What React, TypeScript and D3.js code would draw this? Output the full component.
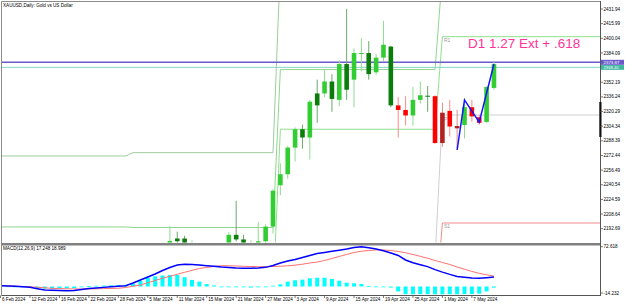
import React from 'react';
import * as d3 from 'd3';

const W = 625;
const H = 305;

// ---- price data (daily bars, 6 Feb 2024 .. 10 May 2024) ----
const opens = [2024, 2035, 2035, 2034, 2025, 2020, 1993, 1992, 2004, 2013, 2017, 2025, 2025, 2024, 2035, 2031, 2034, 2034, 2044, 2083, 2114, 2128, 2148,
  2160, 2179, 2182, 2158, 2174, 2162, 2155, 2160, 2157, 2186, 2181, 2165, 2172, 2179, 2195,
  2240, 2252, 2281, 2301, 2292, 2327, 2340, 2353, 2333, 2372, 2355, 2383, 2384, 2363, 2379, 2391,
  2327, 2322, 2316, 2333, 2337.5, 2337, 2286, 2321, 2304.5, 2305.6, 2325, 2314, 2309, 2346];
const highs = [2040, 2043, 2044, 2040, 2032, 2031, 1998, 2009, 2015, 2022, 2031, 2030, 2035, 2041, 2038, 2037, 2042, 2052, 2088, 2119, 2141, 2153, 2165,
  2195.7, 2189.5, 2185, 2180, 2176, 2167, 2165, 2163, 2189, 2223, 2186, 2180, 2200, 2197.5, 2236,
  2264, 2283, 2303, 2306, 2333, 2355, 2366, 2361, 2376, 2432, 2389, 2400, 2397, 2383, 2419, 2392,
  2336, 2337, 2347, 2353, 2348, 2338, 2330, 2333, 2322, 2335, 2333, 2316.5, 2348, 2374];
const lows = [2022, 2030, 2026, 2021, 2016, 1992, 1984, 1990, 1995, 2010, 2014, 2020, 2016, 2021, 2025, 2025, 2025, 2030, 2040, 2078, 2109, 2124, 2142,
  2153, 2170, 2150, 2156, 2152, 2150, 2152, 2146, 2146, 2179, 2157, 2163, 2169, 2176, 2187.5,
  2229, 2247, 2266, 2280, 2268, 2308, 2336, 2320, 2326, 2333, 2325, 2364, 2355, 2360, 2375, 2325,
  2292, 2305, 2305, 2329, 2320, 2285, 2282, 2293, 2280, 2291, 2309, 2306, 2308, 2344];
const closes = [2035, 2035, 2034, 2025, 2020, 1993, 1992, 2004, 2013, 2017, 2025, 2025, 2024, 2035, 2031, 2034, 2034, 2044, 2083, 2114, 2128, 2148, 2160,
  2179.4, 2182, 2158, 2174, 2162, 2155, 2160, 2157, 2186, 2181, 2165, 2172, 2179, 2195, 2234,
  2252, 2281, 2301, 2292, 2331, 2340, 2353, 2334, 2372, 2344, 2384, 2384, 2361, 2379, 2393, 2327,
  2322, 2316, 2333, 2338, 2336.5, 2286, 2319, 2304, 2302, 2325, 2315, 2308, 2347, 2371.87];
// g = lime, G = dark green, r = red, R = dark red
const barKinds = ('gGGGGGGggggGGgGgGgggggg' + 'gGGgGGgGgG' + 'GgggggggGg' + 'GgGgGggGgg' + 'GrrggGrRrR' + 'grrgg').split('');

// ---- MACD(12,26,9) ----
const macdMain = [1.5, 1.1, 0.4, -0.5, -1.5, -4.0, -6.4, -6.9, -7.3, -7.7,
  -7.3, -5.5, -3.7, -2.7, -1.6, -0.5, 0.5, 1.3, 6.4, 11.9,
  17.3, 22.8, 29.2, 34.7, 39.2, 40.5, 40.2, 39.2, 38.0, 37.0,
  35.6, 34.7, 33.9, 33.4, 33.2, 33.8, 34.9, 38.3, 42.9, 46.5,
  49.3, 52.9, 56.6, 60.2, 62.1, 64.2, 66.2, 68.4, 71.2, 72.6,
  70.5, 68.4, 65.3, 61.1, 56.6, 48.4, 43.3, 39.8, 36.3, 30.8,
  26.2, 22.1, 18.1, 16.8, 15.7, 15.1, 16.1, 17.248];
const macdSignal = [1.5, 1.1, 0.5, 0, -0.4, -1.5, -2.4, -3.3, -3.8, -4.2,
  -4.4, -4.6, -4.6, -4.2, -3.8, -3.5, -3.3, -1.8, 0.4, 2.7,
  6.8, 10.9, 15.1, 18.6, 22.4, 25.9, 29.4, 32.9, 34.7, 36.5,
  37.9, 37.9, 37.4, 36.9, 36.5, 36.1, 36.1, 36.5, 37.0, 37.8,
  38.9, 40.7, 42.9, 44.7, 47.5, 51.1, 54.8, 58.4, 62.1, 64.4,
  65.7, 66.6, 66.6, 65.7, 63.9, 61.7, 58.4, 55.1, 51.5, 47.5,
  43.8, 40.2, 35.5, 31.5, 27.5, 24.0, 21.4, 18.989];
const macdHist = [0.5, 0.3, -0.5, -0.8, -1.5, -3, -4, -4, -3.5, -3.5,
  -3, -1.5, 0.8, 1.5, 1.8, 2.2, 2.8, 3, 5, 10,
  16, 18.5, 20, 21, 21, 17, 12, 9, 4.5, 2,
  -0.5, -1, -1.5, -1.5, -2, -1.5, -1, 1.5, 4, 8.8,
  11.5, 12.5, 15, 16, 16, 13.7, 10.6, 7, 5.8, 4.6,
  1, -0.8, -0.8, -2, -9, -14, -14.2, -14, -14.1, -14.2,
  -14.2, -14, -14.2, -14, -13.8, -13, -9, -2];

// ---- axes ----
const priceTicks = [2431.94, 2415.99, 2400.04, 2384.09, 2352.19, 2336.24, 2320.29, 2304.34, 2288.39, 2272.44, 2256.49, 2240.54, 2224.59, 2208.64, 2192.69];
const dateTickIdx = [0, 4, 8, 12, 16, 20, 24, 28, 32, 36, 40, 44, 48, 52, 56, 60, 64];
const dateTickLabels = ['6 Feb 2024', '12 Feb 2024', '16 Feb 2024', '22 Feb 2024', '28 Feb 2024', '5 Mar 2024', '11 Mar 2024', '15 Mar 2024', '21 Mar 2024', '27 Mar 2024', '3 Apr 2024', '9 Apr 2024', '15 Apr 2024', '19 Apr 2024', '25 Apr 2024', '1 May 2024', '7 May 2024'];
const macdTicks = [72.618, -14.232];

// ---- monthly pivot levels (Feb, Mar, Apr, May) ----
const monthStart = [-3, 18, 38, 60];
const monthEnd = [17, 37, 59, 100];
const pivotLevelA = [2271.9, 2275.5, 2480, 2490];
const pivotLevelB = [2194.6, 2194.0, 2366.0, 2470];
const pivotLevelC = [2100, 2120, 2301.0, 2401.8];
const pivotLevelP = [2030, 2060, 2160, 2316.5];
const pivotLevelS = [1990, 2010, 2100, 2198.9];

// ---- drawn objects ----
const hLineValues = [2373.87, 2368.40];
const zigIdx = [62, 63, 65, 67];
const zigPrice = [2278.4, 2332.9, 2308.6, 2372.0];

const FONT = 'Liberation Sans, Arial, sans-serif';

const kindColor: Record<string, { body: string; wick: string }> = {
  g: { body: '#32cd32', wick: '#8fdc8f' },
  G: { body: '#0a7d0a', wick: '#6aa86a' },
  r: { body: '#ff0000', wick: '#ff8a8a' },
  R: { body: '#b22222', wick: '#d98c8c' },
};

export default function App() {
  const AXIS_X = 600.5;
  const x = d3.scaleLinear().domain([0, 67]).range([0.5, 0.5 + 67 * 7.365]);
  const y = d3.scaleLinear().domain([2192.69, 2431.94]).range([228.7, 9]);
  const ym = d3.scaleLinear().domain([-14.232, 72.618]).range([294.3, 246.7]);

  const pivotPath = (levels: number[]) => {
    const pts: [number, number][] = [];
    levels.forEach((v, m) => {
      pts.push([x(monthStart[m]), y(v)]);
      pts.push([x(monthEnd[m]), y(v)]);
    });
    return d3.line()(pts) || '';
  };

  const idx = d3.range(opens.length);
  const bw = 4.6;

  const macdLine = d3.line<number>().x((_, i) => x(i)).y((d) => ym(d));
  const zigLine = d3.line<number>().x((d) => x(d)).y((_, i) => y(zigPrice[i]));

  return (
    <div style={{ position: 'fixed', left: 0, top: 0 }}>
      <svg width={W} height={H} style={{ display: 'block', background: '#ffffff' }} fontFamily={FONT}>
        <defs>
          <clipPath id="mainClip"><rect x={2} y={2} width={AXIS_X - 2} height={240.5} /></clipPath>
          <clipPath id="macdClip"><rect x={2} y={245.5} width={AXIS_X - 2} height={49.5} /></clipPath>
        </defs>

        {/* main panel */}
        <g clipPath="url(#mainClip)">
          {/* pivot lines */}
          <path d={pivotPath(pivotLevelA)} fill="none" stroke="#9ccc9c" strokeWidth={1} />
          <path d={pivotPath(pivotLevelB)} fill="none" stroke="#8fd68f" strokeWidth={1} />
          <path d={pivotPath(pivotLevelC)} fill="none" stroke="#8fe08f" strokeWidth={1} />
          <path d={pivotPath(pivotLevelP)} fill="none" stroke="#cfcfcf" strokeWidth={1} />
          <path d={pivotPath(pivotLevelS)} fill="none" stroke="#f08a8a" strokeWidth={1} />
          <text x={x(60) + 1.5} y={y(pivotLevelC[3]) + 5.5} fontSize={5} fill="#9a9a9a">R1</text>
          <text x={x(60) + 1.5} y={y(pivotLevelP[3]) + 5.5} fontSize={5} fill="#9a9a9a">P</text>
          <text x={x(60) + 1.5} y={y(pivotLevelS[3]) + 5.5} fontSize={5} fill="#9a9a9a">S1</text>

          {/* horizontal lines */}
          <line x1={0} x2={AXIS_X} y1={y(hLineValues[0])} y2={y(hLineValues[0])} stroke="#6a5acd" strokeWidth={1.6} />
          <line x1={0} x2={AXIS_X} y1={y(hLineValues[1])} y2={y(hLineValues[1])} stroke="#86d6c6" strokeWidth={1} />

          {/* candles */}
          {idx.map((i) => {
            const c = kindColor[barKinds[i]];
            const top = y(Math.max(opens[i], closes[i]));
            const bot = y(Math.min(opens[i], closes[i]));
            return (
              <g key={i}>
                <line x1={x(i)} x2={x(i)} y1={y(highs[i])} y2={y(lows[i])} stroke={c.wick} strokeWidth={1} />
                <rect x={x(i) - bw / 2} y={top} width={bw} height={Math.max(1, bot - top)} fill={c.body} />
              </g>
            );
          })}

          {/* zigzag */}
          <path d={zigLine(zigIdx) || ''} fill="none" stroke="#1414ff" strokeWidth={1.5} />

          <text x={468} y={48} fontSize={13.5} fill="#ff3399" fontFamily={FONT}>D1 1.27 Ext + .618</text>
        </g>

        {/* title */}
        <text x={3} y={7.2} fontSize={4.6} fill="#000">XAUUSD,Daily:  Gold vs US Dollar</text>

        {/* MACD panel */}
        <g clipPath="url(#macdClip)">
          {idx.map((i) => {
            const y0 = ym(0);
            const y1 = ym(macdHist[i]);
            return <rect key={i} x={x(i) - 2} y={Math.min(y0, y1)} width={4} height={Math.max(0.8, Math.abs(y1 - y0))} fill="#00ffff" />;
          })}
          <path d={macdLine(macdSignal) || ''} fill="none" stroke="#ff7070" strokeWidth={1} />
          <path d={macdLine(macdMain) || ''} fill="none" stroke="#0000ff" strokeWidth={1.5} />
        </g>
        <text x={3} y={250.3} fontSize={4.6} fill="#000">MACD(12,26,9) 17.248 18.989</text>

        {/* frames */}
        <line x1={1.5} x2={AXIS_X} y1={1.5} y2={1.5} stroke="#8a8a8a" strokeWidth={1} />
        <line x1={1.5} x2={1.5} y1={1.5} y2={295.5} stroke="#8a8a8a" strokeWidth={1} />
        <line x1={1.5} x2={AXIS_X} y1={244.2} y2={244.2} stroke="#808080" strokeWidth={2.6} />
        <line x1={1.5} x2={AXIS_X} y1={295.5} y2={295.5} stroke="#555" strokeWidth={1} />
        <line x1={AXIS_X} x2={AXIS_X} y1={1} y2={296} stroke="#555" strokeWidth={1} />
        <rect x={599.3} y={102} width={2.2} height={35} fill="#111" />

        {/* price axis */}
        {priceTicks.map((v) => (
          <g key={v}>
            <line x1={AXIS_X} x2={AXIS_X + 2.5} y1={y(v)} y2={y(v)} stroke="#555" strokeWidth={0.8} />
            <text x={603.5} y={y(v) + 1.6} fontSize={4.6} fill="#000">{v.toFixed(2)}</text>
          </g>
        ))}
        {/* value labels */}
        <rect x={601} y={y(hLineValues[0]) - 2.5} width={23} height={5} fill="#6a5acd" />
        <text x={603.5} y={y(hLineValues[0]) + 1.6} fontSize={4.4} fill="#fff">{hLineValues[0].toFixed(2)}</text>
        <rect x={601} y={y(hLineValues[1]) - 2.3} width={23} height={4.8} fill="#3fb8a0" />
        <text x={603.5} y={y(hLineValues[1]) + 1.7} fontSize={4.2} fill="#fff">{hLineValues[1].toFixed(2)}</text>

        {/* MACD axis */}
        {macdTicks.map((v) => (
          <g key={v}>
            <line x1={AXIS_X} x2={AXIS_X + 2.5} y1={Math.min(ym(v), 293)} y2={Math.min(ym(v), 293)} stroke="#555" strokeWidth={0.8} />
            <text x={603.5} y={Math.min(ym(v), 293) + 1.6} fontSize={4.6} fill="#000">{v.toFixed(3)}</text>
          </g>
        ))}

        {/* date axis */}
        {dateTickIdx.map((t, k) => (
          <g key={t}>
            <line x1={x(t)} x2={x(t)} y1={295.5} y2={298} stroke="#555" strokeWidth={0.8} />
            <text x={x(t) + 1.5} y={300.8} fontSize={4.6} fill="#000">{dateTickLabels[k]}</text>
          </g>
        ))}
      </svg>
    </div>
  );
}
